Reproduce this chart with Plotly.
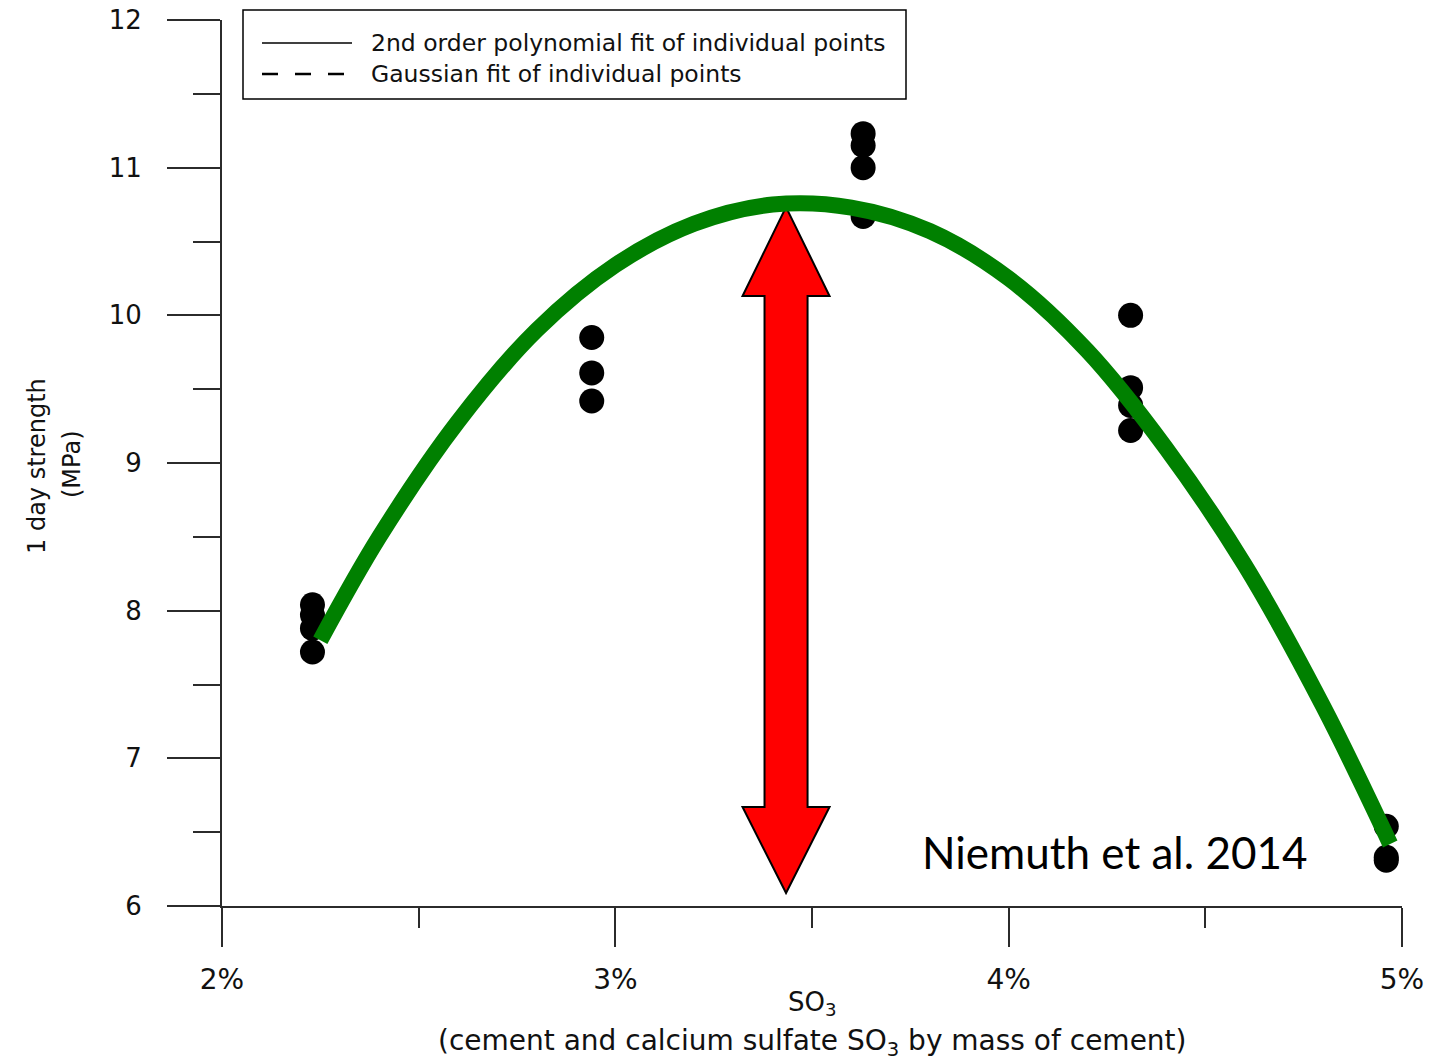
import plotly.graph_objects as go

# --- Measured 1-day strength of individual specimens (MPa) vs SO3 content (%) ---
so3_points = [2.23, 2.23, 2.23, 2.23,
              2.94, 2.94, 2.94,
              3.63, 3.63, 3.63, 3.63,
              4.31, 4.31, 4.31, 4.31,
              4.96, 4.96, 4.96]
strength_points = [8.04, 7.97, 7.88, 7.72,
                   9.85, 9.61, 9.42,
                   11.23, 11.15, 11.00, 10.67,
                   10.00, 9.51, 9.39, 9.22,
                   6.54, 6.33, 6.31]

# --- 2nd order polynomial fit curve (sampled) ---
fit_so3 = [2.25, 2.40, 2.60, 2.80, 3.00, 3.20, 3.40, 3.60,
           3.80, 4.00, 4.20, 4.40, 4.60, 4.80, 4.97]
fit_strength = [7.80, 8.50, 9.28, 9.90, 10.34, 10.62, 10.75, 10.73,
                10.57, 10.25, 9.76, 9.10, 8.31, 7.35, 6.42]

# --- Axis ticks ---
x_tick_vals = [2, 3, 4, 5]
x_tick_text = ["2%", "3%", "4%", "5%"]
y_tick_vals = [6, 7, 8, 9, 10, 11, 12]

legend_labels = ["2nd order polynomial fit of individual points",
                 "Gaussian fit of individual points"]

# Figure / plot-area geometry (pixels)
W, H = 1444, 1061
L, R, T, B = 222, 42, 20, 155
PW, PH = W - L - R, H - T - B


def px_x(p):
    return (p - L) / PW


def px_y(p):
    return (H - B - p) / PH


AXIS_COLOR = "#2b2b2b"
TEXT_COLOR = "#111111"
FONT = "DejaVu Sans, Arial, sans-serif"

fig = go.Figure()

fig.add_trace(go.Scatter(
    x=so3_points, y=strength_points, mode="markers",
    marker=dict(color="black", size=25, line=dict(width=0)),
    showlegend=False, hoverinfo="x+y",
))

fig.add_trace(go.Scatter(
    x=fit_so3, y=fit_strength, mode="lines",
    line=dict(color="#008000", width=16, shape="spline", smoothing=1.0),
    showlegend=False,
))

# Double-headed arrow marking the optimum SO3 content
cx, top, bottom = 3.434, 10.733, 6.088
shaft, head = 0.0547, 0.1106
head_top, head_bot = 10.131, 6.670
arrow_path = (
    f"M {cx},{top} L {cx + head},{head_top} L {cx + shaft},{head_top} "
    f"L {cx + shaft},{head_bot} L {cx + head},{head_bot} L {cx},{bottom} "
    f"L {cx - head},{head_bot} L {cx - shaft},{head_bot} "
    f"L {cx - shaft},{head_top} L {cx - head},{head_top} Z"
)
shapes = [dict(type="path", path=arrow_path, xref="x", yref="y",
               fillcolor="#ff0000", line=dict(color="black", width=2),
               layer="below")]

# Legend box drawn by hand
shapes.append(dict(type="rect", xref="paper", yref="paper",
                   x0=px_x(243), x1=px_x(906), y0=px_y(99), y1=px_y(10),
                   line=dict(color="black", width=1.5), fillcolor="white"))
shapes.append(dict(type="line", xref="paper", yref="paper",
                   x0=px_x(262), x1=px_x(352), y0=px_y(43), y1=px_y(43),
                   line=dict(color="black", width=1.5)))
shapes.append(dict(type="line", xref="paper", yref="paper",
                   x0=px_x(262), x1=px_x(345), y0=px_y(74), y1=px_y(74),
                   line=dict(color="black", width=2.5, dash="16px,17px")))

annotations = [
    dict(text=legend_labels[0], xref="paper", yref="paper",
         x=px_x(369), y=px_y(43), xanchor="left", yanchor="middle",
         showarrow=False, font=dict(family=FONT, size=23.5, color=TEXT_COLOR)),
    dict(text=legend_labels[1], xref="paper", yref="paper",
         x=px_x(369), y=px_y(74), xanchor="left", yanchor="middle",
         showarrow=False, font=dict(family=FONT, size=23.5, color=TEXT_COLOR)),
    dict(text="Niemuth et al. 2014", xref="x", yref="y",
         x=4.268, y=6.366, xanchor="center", yanchor="middle",
         showarrow=False, font=dict(family="Lato, sans-serif", size=44, color="black")),
    dict(text="1 day strength", xref="paper", yref="paper",
         x=px_x(37), y=px_y(466), textangle=-90,
         xanchor="center", yanchor="middle", showarrow=False,
         font=dict(family=FONT, size=24, color=TEXT_COLOR)),
    dict(text="(MPa)", xref="paper", yref="paper",
         x=px_x(72), y=px_y(464), textangle=-90,
         xanchor="center", yanchor="middle", showarrow=False,
         font=dict(family=FONT, size=24, color=TEXT_COLOR)),
    dict(text="SO<sub>3</sub>", xref="paper", yref="paper",
         x=0.5, y=px_y(1004), xanchor="center", yanchor="middle",
         showarrow=False, font=dict(family=FONT, size=26, color=TEXT_COLOR)),
    dict(text="(cement and calcium sulfate SO<sub>3</sub> by mass of cement)",
         xref="paper", yref="paper",
         x=0.5, y=px_y(1042), xanchor="center", yanchor="middle",
         showarrow=False, font=dict(family=FONT, size=28, color=TEXT_COLOR)),
]

fig.update_layout(
    width=W, height=H,
    margin=dict(l=L, r=R, t=T, b=B, pad=0),
    paper_bgcolor="white", plot_bgcolor="white",
    shapes=shapes, annotations=annotations,
    showlegend=False,
    font=dict(family=FONT, color=TEXT_COLOR),
)

fig.update_xaxes(
    range=[2, 5], showgrid=False, zeroline=False, automargin=False,
    showline=True, linecolor=AXIS_COLOR, linewidth=2,
    ticks="outside", ticklen=39, tickwidth=2, tickcolor=AXIS_COLOR,
    tickvals=x_tick_vals, ticktext=x_tick_text,
    tickfont=dict(family=FONT, size=28, color=TEXT_COLOR),
    ticklabelstandoff=8,
    minor=dict(tickvals=[2.5, 3.5, 4.5], ticks="outside", ticklen=20,
               tickwidth=2, tickcolor=AXIS_COLOR),
)
fig.update_yaxes(
    range=[6, 12], showgrid=False, zeroline=False, automargin=False,
    showline=True, linecolor=AXIS_COLOR, linewidth=2,
    ticks="outside", ticklen=53, tickwidth=2, tickcolor=AXIS_COLOR,
    tickvals=y_tick_vals,
    tickfont=dict(family=FONT, size=26, color=TEXT_COLOR),
    ticklabelstandoff=20,
    minor=dict(tickvals=[6.5, 7.5, 8.5, 9.5, 10.5, 11.5], ticks="outside",
               ticklen=27, tickwidth=2, tickcolor=AXIS_COLOR),
)

fig.write_html("out.html")
